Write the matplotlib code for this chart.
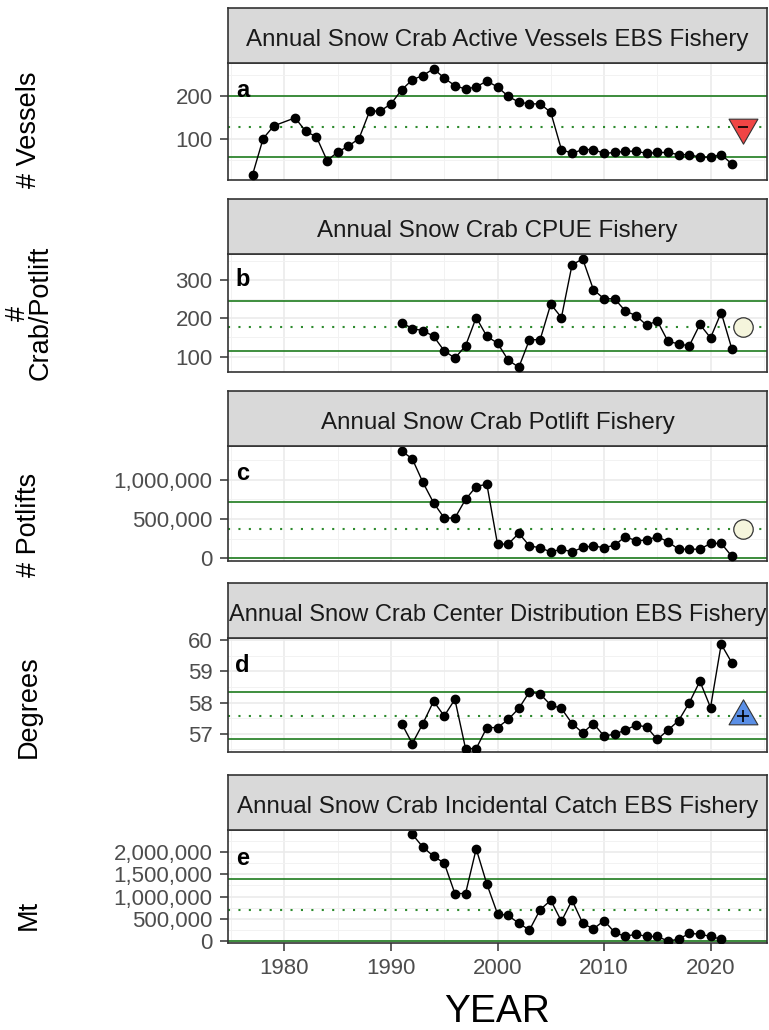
import matplotlib.pyplot as plt
from matplotlib.ticker import FuncFormatter
from matplotlib.path import Path

plt.rcParams['font.family'] = ['Liberation Sans', 'DejaVu Sans']

# ---- data ----
years_vessels = [1977, 1978, 1979] + list(range(1981, 2023))
vessels = [14, 100, 130,
           149, 117, 104, 48, 68, 82, 100, 165, 165, 182,
           215, 239, 249, 265, 243, 225, 217, 222, 236, 222,
           200, 186, 182, 182, 162, 74, 65, 74, 74, 65,
           67, 70, 70, 65, 67, 67, 62, 62, 56, 56,
           62, 40]

years_cpue = list(range(1991, 2023))
cpue = [189, 173, 168, 153, 115, 96, 128, 202, 153, 135,
        91, 72, 144, 144, 237, 202, 340, 355, 275, 251,
        251, 219, 207, 182, 193, 140, 133, 128, 184, 149,
        215, 120]

years_potlifts = list(range(1991, 2023))
potlifts = [1366000, 1267000, 966000, 707000, 513000, 513000, 750000, 914000, 944000, 181000,
            181000, 319000, 159000, 134000, 82000, 116000, 82000, 138000, 159000, 134000,
            168000, 276000, 224000, 233000, 276000, 211000, 116000, 116000, 116000, 190000,
            190000, 26000]

years_center = list(range(1991, 2023))
center = [57.33, 56.69, 57.33, 58.04, 57.57, 58.10, 56.53, 56.53, 57.20, 57.20,
          57.46, 57.81, 58.34, 58.27, 57.92, 57.81, 57.33, 57.03, 57.33, 56.93,
          56.99, 57.12, 57.28, 57.22, 56.82, 57.12, 57.42, 57.99, 58.68, 57.84,
          59.86, 59.27]

years_bycatch = list(range(1992, 2022))
bycatch = [2394000, 2106000, 1902000, 1750000, 1068000, 1068000, 2068000, 1280000, 614000, 576000,
           402000, 250000, 705000, 917000, 447000, 917000, 402000, 273000, 462000, 197000,
           106000, 159000, 106000, 106000, 5000, 45000, 174000, 159000, 106000, 45000]

titles = ["Annual Snow Crab Active Vessels EBS Fishery",
          "Annual Snow Crab CPUE Fishery",
          "Annual Snow Crab Potlift Fishery",
          "Annual Snow Crab Center Distribution EBS Fishery",
          "Annual Snow Crab Incidental Catch EBS Fishery"]
ylabels = ["# Vessels", "#\nCrab/Potlift", "# Potlifts", "Degrees", "Mt"]
letters = ["a", "b", "c", "d", "e"]

upper = [200, 246, 720000, 58.32, 1394000]
mid = [128, 177, 371000, 57.57, 697000]
lower = [57, 115, 0, 56.82, 0]
status = ["down", "neutral", "neutral", "up", None]
status_year = 2023

yticks = [[100, 200], [100, 200, 300], [0, 500000, 1000000], [57, 58, 59, 60],
          [0, 500000, 1000000, 1500000, 2000000]]
ylims = [(0.8, 278.6), (61, 368), (-34000, 1430000), (56.42, 60.06), (-40000, 2490000)]

series = [(years_vessels, vessels), (years_cpue, cpue), (years_potlifts, potlifts),
          (years_center, center), (years_bycatch, bycatch)]

# ---- layout (pixels) ----
W, H = 769, 1030
left, right = 228, 767
tops = [63, 254, 446, 638, 830]
bots = [180.5, 371.5, 561, 752, 943]
strip_h = 55
title_size = [17.4, 17.4, 17.4, 17.0, 17.4]
letter_y = [0.77, 0.78, 0.76, 0.76, 0.75]
ylab_y = [130, 313, 525, 707, 915]

tri_down = Path([(-1, 0.577), (1, 0.577), (0, -1.155), (-1, 0.577)],
                [Path.MOVETO, Path.LINETO, Path.LINETO, Path.CLOSEPOLY])
tri_up = Path([(-1, -0.577), (1, -0.577), (0, 1.155), (-1, -0.577)],
              [Path.MOVETO, Path.LINETO, Path.LINETO, Path.CLOSEPOLY])

fig = plt.figure(figsize=(W / 100, H / 100), dpi=100)
comma = FuncFormatter(lambda v, p: f"{v:,.0f}")

for i in range(5):
    top, bot = tops[i], bots[i]
    ax = fig.add_axes([left / W, 1 - bot / H, (right - left) / W, (bot - top) / H])
    sax = fig.add_axes([left / W, 1 - top / H, (right - left) / W, strip_h / H])

    # strip
    sax.set_facecolor('#D9D9D9')
    sax.set_xticks([])
    sax.set_yticks([])
    for s in sax.spines.values():
        s.set_color('#333333')
        s.set_linewidth(1.2)
    sax.text(0.5, 0.42, titles[i], ha='center', va='center', fontsize=title_size[i],
             color='#1A1A1A', transform=sax.transAxes, clip_on=True)

    # panel
    ax.set_facecolor('white')
    ax.set_axisbelow(True)
    ax.set_xticks(range(1980, 2021, 10))
    ax.set_xticks(range(1975, 2026, 10), minor=True)
    yt = yticks[i]
    ax.set_yticks(yt)
    step = yt[1] - yt[0]
    ax.set_yticks([v + step / 2 for v in [yt[0] - step] + yt], minor=True)
    # limits after the ticks, so the ticks do not widen the view
    ax.set_xlim(1974.7, 2025.3)
    ax.set_ylim(*ylims[i])
    ax.grid(which='major', color='#EBEBEB', lw=1.2)
    ax.grid(which='minor', color='#F2F2F2', lw=0.7)
    for s in ax.spines.values():
        s.set_color('#333333')
        s.set_linewidth(1.2)
    ax.tick_params(axis='y', which='major', length=6, width=1.1, color='#333333',
                   labelsize=16, labelcolor='#4D4D4D', pad=5)
    ax.tick_params(which='minor', length=0)
    if i in (2, 4):
        ax.yaxis.set_major_formatter(comma)
    if i == 4:
        ax.tick_params(axis='x', which='major', length=6, width=1.1, color='#333333',
                       labelsize=16, labelcolor='#4D4D4D', pad=5)
    else:
        ax.tick_params(axis='x', which='major', length=0, labelbottom=False)

    ax.axhline(upper[i], color='#1E7B1E', lw=1.2, zorder=2)
    ax.axhline(lower[i], color='#1E7B1E', lw=1.2, zorder=2)
    ax.axhline(mid[i], color='#2E8B2E', lw=1.5, ls=(0, (1, 4)), zorder=2)

    xs, ys = series[i]
    ax.plot(xs, ys, color='black', lw=1.0, marker='o', ms=6, zorder=3)

    st = status[i]
    if st == 'down':
        ax.plot(status_year, mid[i], marker=tri_down, ms=24, color='#F04545',
                mec='#333333', mew=0.8, zorder=4)
        ax.plot(status_year, mid[i], marker='_', ms=7, color='black', mew=1.2, zorder=5)
    elif st == 'up':
        ax.plot(status_year, mid[i], marker=tri_up, ms=24, color='#5A8FE6',
                mec='#333333', mew=0.8, zorder=4)
        ax.plot(status_year, mid[i], marker='+', ms=9, color='black', mew=1.2, zorder=5)
    elif st == 'neutral':
        ax.plot(status_year, mid[i], marker='o', ms=14, color='#F5F5DC',
                mec='#333333', mew=0.9, zorder=4)

    ax.text(0.027, letter_y[i], letters[i], transform=ax.transAxes, fontsize=17,
            fontweight='bold', ha='center', va='center', color='black')

    fig.text(29 / W, 1 - ylab_y[i] / H, ylabels[i], rotation=90, ha='center',
             va='center', fontsize=19.5, color='black', linespacing=0.85,
             multialignment='center')

fig.text((left + right) / 2 / W, 1 - 1012 / H, "YEAR", ha='center', va='center',
         fontsize=28, color='black')

fig.savefig('out.png', dpi=100)
